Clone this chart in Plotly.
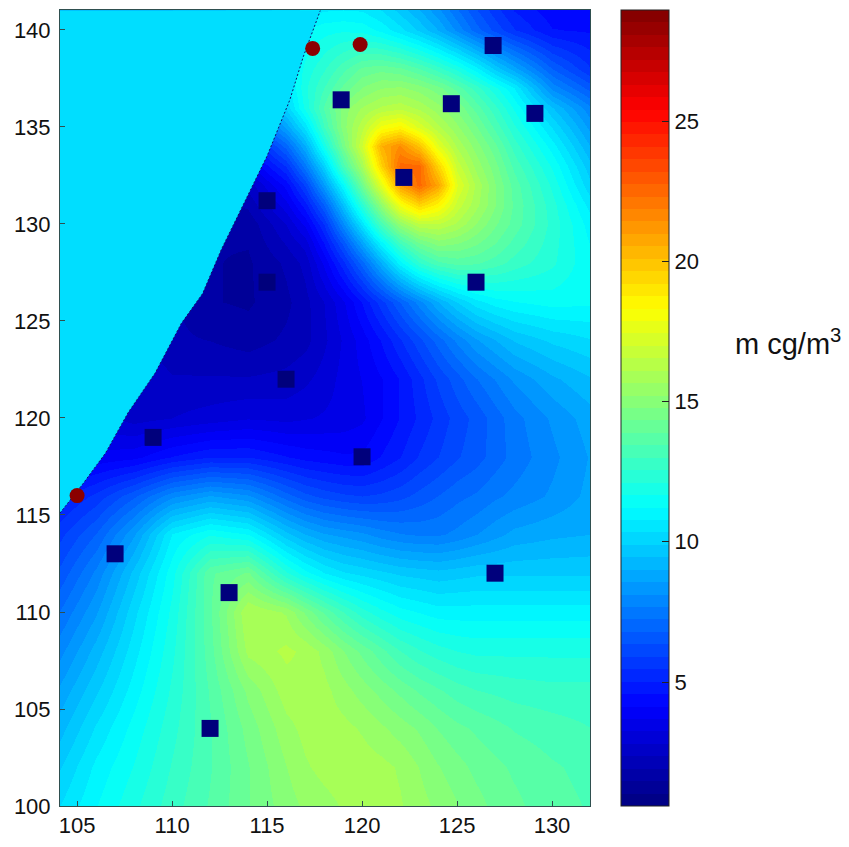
import plotly.graph_objects as go

grid_x = [104, 106, 108, 110, 112, 114, 116, 117, 118, 119, 120, 121, 122, 123, 124, 125, 126, 127, 128, 130, 132]
grid_y = [100, 102, 104, 106, 108, 110, 112, 114, 116, 118, 120, 122, 124, 126,
          128, 129, 130, 131, 132, 133, 134, 135, 136, 137, 138, 140, 142]

# concentration, one row per grid_y value
row_100 = [10.3, 11.2, 12.0, 12.8, 13.5, 14.3, 15.0, 15.3, 15.5, 15.7, 15.8, 15.8, 15.7, 15.4, 15.1, 14.8, 14.5, 14.2, 14.0, 13.6, 13.4]
row_102 = [9.8, 10.9, 11.7, 12.6, 13.4, 14.3, 15.2, 15.6, 15.8, 15.9, 15.9, 15.8, 15.6, 15.2, 14.8, 14.5, 14.2, 14.0, 13.8, 13.5, 13.3]
row_104 = [9.2, 10.4, 11.4, 12.4, 13.4, 14.5, 15.5, 15.8, 15.9, 15.8, 15.6, 15.3, 15.0, 14.7, 14.3, 14.0, 13.8, 13.6, 13.4, 13.2, 13.0]
row_106 = [8.6, 9.8, 11.0, 12.2, 13.5, 14.9, 15.9, 16.0, 15.8, 15.4, 15.0, 14.6, 14.2, 13.8, 13.5, 13.2, 13.0, 12.9, 12.8, 12.7, 12.7]
row_108 = [7.9, 9.2, 10.6, 12.0, 13.7, 15.8, 16.2, 16.0, 15.5, 14.8, 14.2, 13.6, 13.0, 12.6, 12.3, 12.1, 12.0, 12.0, 12.0, 12.0, 12.0]
row_110 = [7.2, 8.5, 10.2, 11.8, 13.8, 16.1, 15.6, 14.7, 13.8, 13.0, 12.3, 11.8, 11.4, 11.2, 11.0, 11.0, 11.0, 11.0, 11.0, 11.0, 11.0]
row_112 = [6.4, 7.8, 9.6, 11.5, 13.8, 14.4, 12.2, 11.4, 10.8, 10.4, 10.2, 10.0, 9.8, 9.7, 9.6, 9.7, 9.8, 9.8, 9.8, 9.8, 9.8]
row_114 = [5.7, 6.8, 8.5, 10.8, 11.6, 11.2, 9.6, 9.0, 8.6, 8.4, 8.2, 7.9, 7.7, 7.6, 7.6, 7.8, 8.1, 8.4, 8.7, 8.9, 9.0]
row_116 = [4.8, 5.6, 6.7, 8.0, 8.6, 8.2, 7.0, 6.5, 6.2, 6.0, 5.9, 6.0, 6.2, 6.5, 6.8, 7.1, 7.3, 7.6, 7.8, 8.2, 8.7]
row_118 = [3.5, 3.8, 4.0, 4.6, 5.0, 5.0, 4.6, 4.4, 4.3, 4.2, 4.2, 4.6, 5.0, 5.5, 5.9, 6.3, 6.6, 7.0, 7.4, 8.0, 8.6]
row_120 = [3.0, 3.0, 2.6, 2.8, 3.0, 3.2, 3.1, 3.2, 3.3, 3.4, 3.6, 4.1, 4.6, 5.1, 5.6, 6.1, 6.5, 7.0, 7.5, 8.2, 8.8]
row_122 = [3.0, 3.0, 2.8, 2.4, 2.4, 2.4, 2.5, 2.7, 3.0, 3.4, 3.7, 4.1, 4.6, 5.3, 6.0, 6.6, 7.2, 7.7, 8.2, 8.9, 9.4]
row_124 = [3.0, 3.0, 2.5, 2.0, 1.9, 1.7, 2.0, 2.2, 2.7, 3.3, 3.9, 4.6, 5.4, 6.2, 7.0, 7.8, 8.5, 9.0, 9.5, 10.0, 10.3]
row_126 = [3.0, 3.0, 2.5, 2.0, 1.5, 1.4, 1.8, 2.2, 2.8, 3.6, 4.6, 5.7, 6.8, 7.9, 9.0, 9.9, 10.6, 11.0, 11.2, 11.4, 11.3]
row_128 = [3.0, 3.0, 2.5, 2.0, 1.5, 1.4, 2.0, 2.5, 3.8, 5.3, 7.0, 9.0, 11.0, 12.5, 13.3, 13.6, 13.5, 13.2, 12.8, 12.2, 11.3]
row_129 = [3.0, 3.0, 2.5, 2.0, 1.5, 1.5, 2.4, 3.0, 4.6, 6.5, 8.7, 11.0, 13.0, 14.3, 15.0, 14.8, 14.4, 13.9, 13.3, 12.3, 11.2]
row_130 = [3.0, 3.0, 2.5, 2.0, 1.5, 1.6, 2.8, 3.8, 5.5, 8.0, 10.5, 13.2, 15.3, 16.5, 16.5, 16.0, 15.2, 14.4, 13.7, 12.4, 11.0]
row_131 = [3.0, 3.0, 2.5, 2.0, 1.7, 2.0, 3.5, 4.8, 6.8, 9.5, 12.4, 15.2, 18.0, 19.5, 18.5, 16.8, 15.8, 14.8, 13.8, 12.3, 10.6]
row_132 = [3.0, 3.0, 2.5, 2.0, 2.0, 2.5, 4.3, 6.0, 8.5, 11.2, 14.3, 17.5, 21.0, 22.5, 20.8, 17.5, 16.0, 14.8, 13.7, 12.0, 10.0]
row_133 = [3.0, 3.0, 2.7, 2.5, 2.8, 3.5, 5.5, 7.5, 10.0, 13.2, 15.8, 19.5, 22.5, 22.5, 19.5, 16.8, 15.5, 14.5, 13.3, 11.6, 9.6]
row_134 = [3.0, 3.0, 3.0, 3.0, 3.5, 4.5, 7.0, 9.0, 11.8, 14.5, 17.0, 20.5, 21.5, 20.0, 17.5, 16.0, 15.0, 14.0, 12.8, 11.0, 9.0]
row_135 = [4.5, 4.5, 4.5, 4.5, 5.0, 6.0, 8.7, 10.5, 13.0, 15.0, 16.4, 18.0, 18.5, 17.3, 16.2, 15.3, 14.4, 13.3, 12.2, 10.3, 8.4]
row_136 = [6.0, 6.0, 6.0, 6.0, 6.5, 7.5, 10.0, 11.8, 13.5, 15.0, 15.7, 16.2, 16.4, 16.0, 15.4, 14.7, 13.7, 12.7, 11.6, 9.5, 7.8]
row_137 = [7.0, 7.0, 7.0, 7.0, 7.5, 8.5, 10.5, 12.0, 13.0, 14.0, 14.8, 15.2, 15.3, 15.0, 14.5, 13.7, 12.8, 11.8, 10.8, 8.0, 6.6]
row_138 = [8.0, 8.0, 8.0, 8.0, 8.5, 9.5, 10.8, 11.8, 12.5, 13.3, 14.0, 14.2, 14.0, 13.5, 12.8, 12.0, 11.0, 9.8, 8.8, 6.8, 5.5]
row_140 = [9.0, 9.0, 9.0, 9.0, 9.5, 10.0, 10.5, 11.2, 11.5, 11.6, 11.5, 11.1, 10.5, 9.8, 9.0, 8.0, 7.0, 6.2, 5.5, 4.6, 4.5]
row_142 = [9.0, 9.0, 9.0, 9.0, 9.0, 9.5, 9.5, 9.8, 10.0, 10.0, 10.0, 9.6, 9.0, 8.3, 7.5, 6.6, 5.8, 5.1, 4.5, 4.0, 4.0]
grid_z = [row_100, row_102, row_104, row_106, row_108, row_110, row_112, row_114, row_116, row_118, row_120,
          row_122, row_124, row_126, row_128, row_129, row_130, row_131, row_132, row_133, row_134, row_135,
          row_136, row_137, row_138, row_140, row_142]

# outline of the masked (no data) region
mask_x = [104.1, 104.1, 105.3, 106.5, 107.7, 109.1, 110.5, 111.6, 112.6, 113.7, 115.0, 116.2, 116.9, 117.8, 104.1]
mask_y = [141.0, 115.1, 116.6, 118.2, 120.3, 122.3, 124.9, 126.4, 128.7, 130.9, 133.5, 136.4, 138.6, 141.0, 141.0]
edge_x = mask_x[1:14]
edge_y = mask_y[1:14]

square_x = [107, 113, 112, 127, 120, 116, 109, 115, 115, 122.2, 126, 124.7, 129.1, 118.9, 126.9]
square_y = [113, 111, 104, 112, 118, 122, 119, 127, 131.2, 132.4, 127, 136.2, 135.7, 136.4, 139.2]
circle_x = [105, 117.4, 119.9]
circle_y = [116, 139.05, 139.25]

axis_x_ticks = [105, 110, 115, 120, 125, 130]
axis_y_ticks = [100, 105, 110, 115, 120, 125, 130, 135, 140]
bar_ticks = [5, 10, 15, 20, 25]
unit_label = "m cg/m<sup>3</sup>"
Z_MIN = 0.58
Z_MAX = 28.96


def jet_level(t):
    r = max(0.0, min(1.0, min(4 * t - 1.5, 4.5 - 4 * t)))
    g = max(0.0, min(1.0, min(4 * t - 0.5, 3.5 - 4 * t)))
    b = max(0.0, min(1.0, min(4 * t + 0.5, 2.5 - 4 * t)))
    return "rgb(%d,%d,%d)" % (r * 255, g * 255, b * 255)


LEVELS = 64
stepped = []
for i in range(LEVELS):
    colour = jet_level((i + 0.5) / LEVELS)
    stepped.append([i / LEVELS, colour])
    stepped.append([(i + 1) / LEVELS, colour])

fig = go.Figure()
fig.add_trace(go.Heatmap(
    x=grid_x, y=grid_y, z=grid_z, zsmooth="best", zmin=Z_MIN, zmax=Z_MAX,
    colorscale=stepped,
    colorbar=dict(
        x=1.0585, xanchor="left", xpad=0, ypad=0, y=0.5, yanchor="middle",
        len=1, lenmode="fraction", thickness=48, thicknessmode="pixels",
        tickvals=bar_ticks, ticks="inside", ticklen=7, tickcolor="#222222",
        outlinecolor="#222222", outlinewidth=1,
        tickfont=dict(family="Liberation Sans", size=22, color="#111111"),
    ),
))
fig.add_trace(go.Scatter(x=mask_x, y=mask_y, mode="lines", fill="toself",
                         fillcolor="rgb(0,222,255)", line=dict(width=0), hoverinfo="skip", showlegend=False))
fig.add_trace(go.Scatter(x=edge_x, y=edge_y, mode="lines",
                         line=dict(color="#10106a", width=1, dash="2px,2px"), hoverinfo="skip", showlegend=False))
fig.add_trace(go.Scatter(x=square_x, y=square_y, mode="markers",
                         marker=dict(symbol="square", size=17, color="#00007c"), showlegend=False))
fig.add_trace(go.Scatter(x=circle_x, y=circle_y, mode="markers",
                         marker=dict(symbol="circle", size=15, color="#8b0000"), showlegend=False))

axis_style = dict(showgrid=False, zeroline=False, showline=True, linecolor="#2f4f4f", linewidth=1, mirror=True,
                  ticks="inside", ticklen=5, tickcolor="#2f4f4f",
                  tickfont=dict(family="Liberation Sans", size=22, color="#111111"))
fig.update_layout(
    width=841, height=839,
    margin=dict(l=52, r=259, t=2, b=41),
    paper_bgcolor="white", plot_bgcolor="white",
    showlegend=False,
    xaxis=dict(range=[104.1, 132], tickvals=axis_x_ticks, **axis_style),
    yaxis=dict(range=[100, 141.03], tickvals=axis_y_ticks, ticklabelstandoff=4, **axis_style),
    annotations=[dict(text=unit_label, xref="paper", yref="paper", x=1.374, y=0.583, xanchor="center", yanchor="middle",
                      showarrow=False, font=dict(family="Liberation Sans", size=29, color="#111111"))],
)
fig.write_html("out.html")
